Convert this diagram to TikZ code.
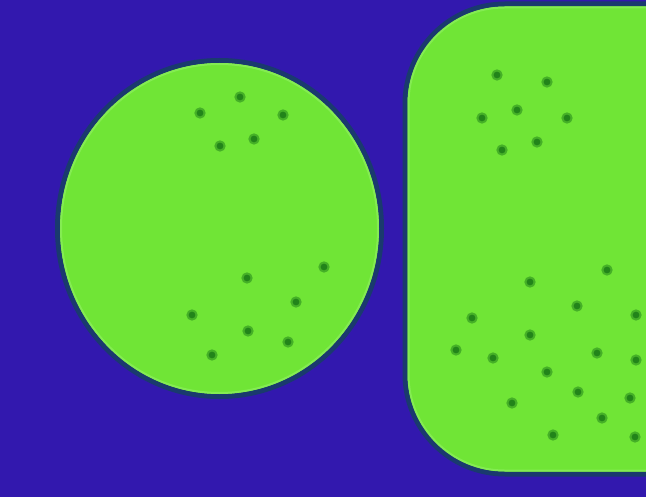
\documentclass[tikz,border=0pt]{standalone}
\usepackage{tikz}
\definecolor{bgBlue}{HTML}{3218AE}
\definecolor{cellGreen}{HTML}{70E536}
\definecolor{cellLt}{HTML}{84EC52}
\definecolor{cellRim}{HTML}{1A3A6E}
\definecolor{dotGreen}{HTML}{22841A}
\tikzset{
  cell/.style  = {fill=cellGreen, draw=cellRim, line width=5pt},
  rim/.style   = {draw=cellLt, line width=2pt},
  spot/.style  = {fill=dotGreen, draw=dotGreen!55!cellGreen, line width=2pt},
}
\begin{document}
\begin{tikzpicture}[x=1pt, y=-1pt]
  \fill[bgBlue] (0,0) rectangle (646,497);
  \useasboundingbox (0,0) rectangle (646,497);
  % round cell
  \draw[cell] (219.5,228.5) ellipse [x radius=162, y radius=168];
  \draw[rim] (219.5,228.5) ellipse [x radius=158.5, y radius=164.5];
  % square cell, runs off the right edge
  \begin{scope}
    \clip (0,0) rectangle (646,497);
    \draw[cell, rounded corners=100pt] (405,4) rectangle (760,474);
    \draw[rim, rounded corners=96pt] (408.5,7.5) rectangle (756.5,470.5);
  \end{scope}
  % spots in the round cell
  \foreach \p in {(200,113),(240,97),(283,115),(220,146),(254,139),
                  (247,278),(324,267),(296,302),(192,315),(248,331),
                  (288,342),(212,355)}
    \fill[spot] \p circle (4.6);
  % spots in the square cell
  \foreach \p in {(497,75),(547,82),(482,118),(517,110),(567,118),
                  (502,150),(537,142),
                  (607,270),(530,282),(577,306),(636,315),(472,318),
                  (530,335),(456,350),(493,358),(597,353),(636,360),
                  (547,372),(578,392),(630,398),(512,403),(602,418),
                  (553,435),(635,437)}
    \fill[spot] \p circle (4.6);
\end{tikzpicture}
\end{document}
